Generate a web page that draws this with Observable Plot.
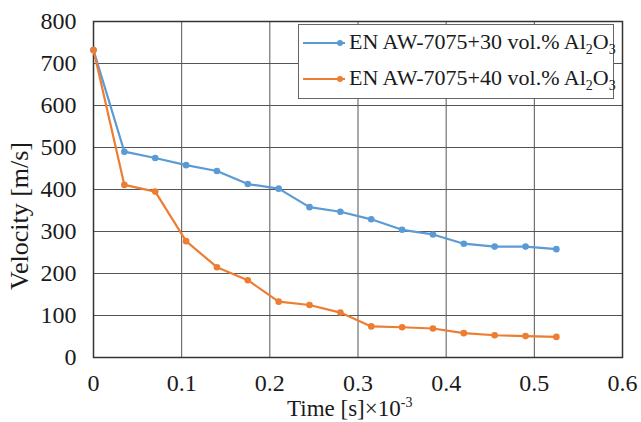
<!DOCTYPE html>
<html>
<head>
<meta charset="utf-8">
<script src="https://cdn.jsdelivr.net/npm/d3@7"></script>
<script src="https://cdn.jsdelivr.net/npm/@observablehq/plot@0.6"></script>
<style>
  body { margin: 0; background: #fff; }
  #wrap { position: relative; width: 641px; height: 422px; font-family: "Liberation Serif", "Times New Roman", serif; color: #1a1a1a; }
  .lab { position: absolute; white-space: nowrap; }
  #legend { position: absolute; left: 298px; top: 24px; width: 316px; height: 75px; border: 1.5px solid #666; background: #fff; box-sizing: border-box; }
  .row { position: absolute; left: 0; height: 30px; width: 100%; }
  .row svg { position: absolute; left: 4px; top: 0; }
  .row span { position: absolute; left: 50px; top: 1px; font-size: 22px; line-height: 26px; white-space: nowrap; }
  sub { font-size: 14px; vertical-align: -5px; line-height: 0; }
  sup { font-size: 14px; vertical-align: 9px; line-height: 0; }
</style>
</head>
<body>
<div id="wrap"></div>
<script>
const time = [0, 0.035, 0.07, 0.105, 0.14, 0.175, 0.21, 0.245, 0.28, 0.315, 0.35, 0.385, 0.42, 0.455, 0.49, 0.525];
const v30 = [732, 490, 475, 458, 444, 413, 402, 358, 347, 329, 304, 293, 271, 264, 264, 258];
const v40 = [732, 411, 395, 277, 215, 184, 133, 125, 107, 74, 72, 69, 58, 53, 51, 49];
const seriesNames = ["EN AW-7075+30 vol.% Al2O3", "EN AW-7075+40 vol.% Al2O3"];
const colors = ["#5b9bd5", "#ed7d31"];
const xTicks = [0, 0.1, 0.2, 0.3, 0.4, 0.5, 0.6];
const yTicks = [0, 100, 200, 300, 400, 500, 600, 700, 800];

const data = [
  ...time.map((t, i) => ({t, v: v30[i], s: seriesNames[0]})),
  ...time.map((t, i) => ({t, v: v40[i], s: seriesNames[1]}))
];
const fmtX = d => d === 0 ? "0" : String(+d.toFixed(1));

const chart = Plot.plot({
  width: 641, height: 422,
  marginLeft: 93, marginRight: 19, marginTop: 21, marginBottom: 65,
  style: { fontFamily: "'Liberation Serif', serif", fontSize: "24px", color: "#1a1a1a", background: "#fff" },
  x: { domain: [0, 0.6], ticks: xTicks, tickFormat: fmtX, label: null },
  y: { domain: [0, 800], ticks: yTicks, label: null },
  color: { domain: seriesNames, range: colors },
  marks: [
    Plot.gridX(xTicks, { stroke: "#555", strokeOpacity: 1, strokeWidth: 1 }),
    Plot.gridY(yTicks, { stroke: "#555", strokeOpacity: 1, strokeWidth: 1 }),
    Plot.frame({ stroke: "#333", strokeWidth: 1.5 }),
    Plot.axisX({ ticks: xTicks, tickSize: 0, tickPadding: 16, tickFormat: fmtX, label: null, fontSize: 24 }),
    Plot.axisY({ ticks: yTicks, tickSize: 0, tickPadding: 17, label: null, fontSize: 24 }),
    Plot.line(data, { x: "t", y: "v", z: "s", stroke: "s", strokeWidth: 2.2 }),
    Plot.dot(data, { x: "t", y: "v", fill: "s", r: 3.3 })
  ]
});

const wrap = document.getElementById("wrap");
wrap.appendChild(chart);

const xl = document.createElement("div");
xl.className = "lab";
xl.style.left = "287px"; xl.style.top = "403px";
xl.style.fontSize = "23px"; xl.style.lineHeight = "12px";
xl.innerHTML = "Time [s]\u00d710<sup>-3</sup>";
wrap.appendChild(xl);

const yl = document.createElement("div");
yl.className = "lab";
yl.style.left = "20px"; yl.style.top = "216px";
yl.style.fontSize = "26px"; yl.style.lineHeight = "26px";
yl.style.transform = "translate(-50%, -50%) rotate(-90deg)";
yl.textContent = "Velocity [m/s]";
wrap.appendChild(yl);

const lg = document.createElement("div");
lg.id = "legend";
seriesNames.forEach((name, i) => {
  const row = document.createElement("div");
  row.className = "row";
  row.style.top = (i === 0 ? 3 : 39) + "px";
  row.innerHTML = `<svg width="46" height="30"><line x1="0" y1="15" x2="42" y2="15" stroke="${colors[i]}" stroke-width="2.2"/><circle cx="37" cy="15" r="3" fill="${colors[i]}"/></svg>` +
    `<span>${name.replace("Al2O3", "Al<sub>2</sub>O<sub>3</sub>")}</span>`;
  lg.appendChild(row);
});
wrap.appendChild(lg);
</script>
</body>
</html>
